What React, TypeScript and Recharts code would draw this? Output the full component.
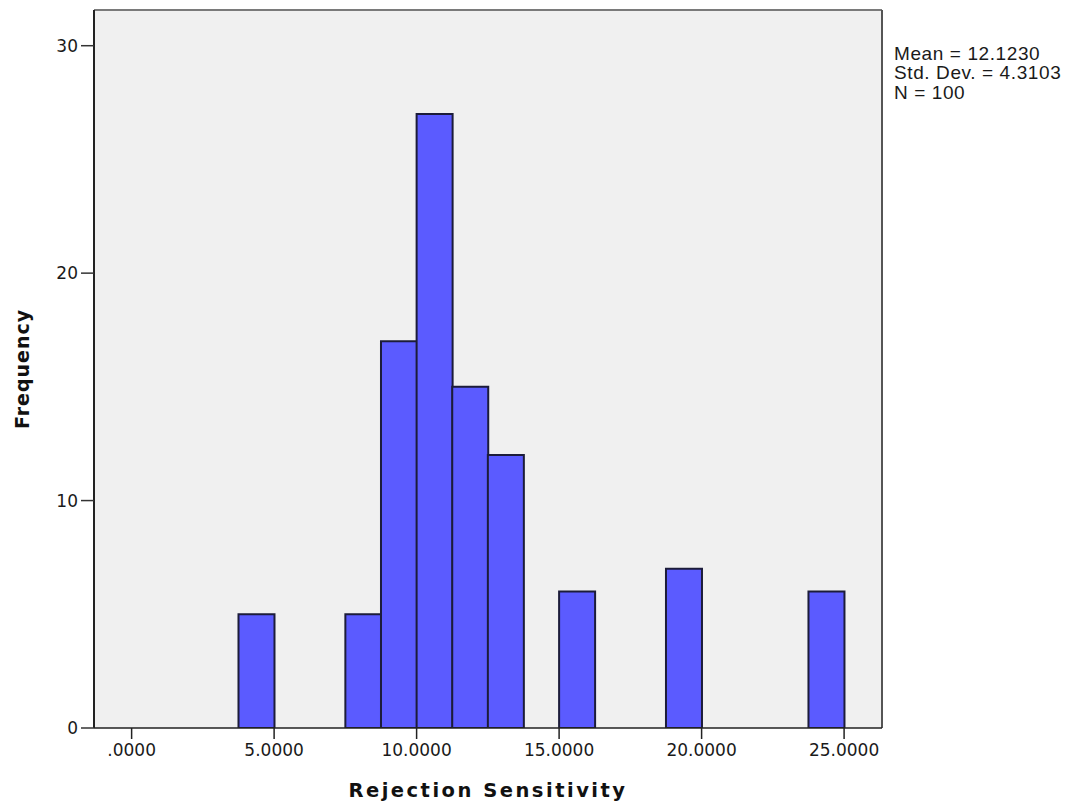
import { ComposedChart, Bar, XAxis, YAxis, CartesianGrid, ReferenceLine } from 'recharts';

// non-empty histogram bins: left edge of each bin and its count
const binStarts = [3.75, 7.5, 8.75, 10, 11.25, 12.5, 15, 18.75, 23.75];
const frequencies = [5, 5, 17, 27, 15, 12, 6, 7, 6];
const BIN_WIDTH = 1.25;

const xTicks = [0, 5, 10, 15, 20, 25];
const yTicks = [0, 10, 20, 30];
const statLines = ['Mean = 12.1230', 'Std. Dev. = 4.3103', 'N = 100'];

const X_DOMAIN = [-1.32, 26.33];
const Y_MAX = 31.57;

const data = binStarts.map((start, i) => ({
  mid: start + BIN_WIDTH / 2,
  count: frequencies[i],
}));

const TICK_FONT = { fontFamily: '"DejaVu Sans", sans-serif', fontSize: 17, fill: '#1a1a1a' };

// SPSS prints .0000 without the leading zero
const fmtX = (v: number) => v.toFixed(4).replace(/^0(?=\.)/, '');

const XTitle = ({ viewBox }: any) => (
  <text
    x={viewBox.x + viewBox.width / 2}
    y={viewBox.y + viewBox.height - 6}
    textAnchor="middle"
    fontFamily='"DejaVu Sans", sans-serif'
    fontWeight="bold"
    fontSize={19.5}
    letterSpacing={2.5}
    fill="#111"
  >
    Rejection Sensitivity
  </text>
);

const YTitle = ({ viewBox }: any) => {
  const cx = viewBox.x + 29;
  const cy = viewBox.y + viewBox.height / 2;
  return (
    <text
      x={cx}
      y={cy}
      transform={`rotate(-90, ${cx}, ${cy})`}
      textAnchor="middle"
      fontFamily='"DejaVu Sans", sans-serif'
      fontWeight="bold"
      fontSize={19}
      letterSpacing={1}
      fill="#111"
    >
      Frequency
    </text>
  );
};

export default function App() {
  return (
    <div style={{ position: 'absolute', left: 0, top: 0, width: 1070, height: 803, background: '#fff' }}>
      <ComposedChart
        width={1070}
        height={803}
        data={data}
        margin={{ top: 10, right: 188, left: 0, bottom: 0 }}
        barCategoryGap={0}
        barGap={0}
      >
        <CartesianGrid horizontal={false} vertical={false} fill="#f0f0f0" />
        <XAxis
          type="number"
          dataKey="mid"
          domain={X_DOMAIN}
          ticks={xTicks}
          tickFormatter={fmtX}
          allowDataOverflow
          height={75}
          tickSize={11}
          tickMargin={5}
          axisLine={{ stroke: '#222', strokeWidth: 1.5 }}
          tickLine={{ stroke: '#222', strokeWidth: 1.5 }}
          tick={TICK_FONT}
          label={<XTitle />}
        />
        <YAxis
          type="number"
          domain={[0, Y_MAX]}
          ticks={yTicks}
          allowDataOverflow
          width={94}
          tickSize={13}
          tickMargin={3}
          axisLine={{ stroke: '#222', strokeWidth: 2 }}
          tickLine={{ stroke: '#333', strokeWidth: 1.5 }}
          tick={TICK_FONT}
          label={<YTitle />}
        />
        {/* top and right edges of the plot frame */}
        <ReferenceLine y={Y_MAX} stroke="#7a7a7a" strokeWidth={2} />
        <ReferenceLine x={X_DOMAIN[1]} stroke="#555" strokeWidth={2} />
        <Bar
          dataKey="count"
          fill="#5b5bff"
          stroke="#1c1c3a"
          strokeWidth={2}
          isAnimationActive={false}
        />
      </ComposedChart>
      <div
        style={{
          position: 'absolute',
          left: 894,
          top: 44,
          fontFamily: '"Liberation Sans", Arial, sans-serif',
          fontSize: 19,
          lineHeight: '19.3px',
          letterSpacing: 0.6,
          color: '#1a1a1a',
          whiteSpace: 'nowrap',
        }}
      >
        {statLines.map((line) => (
          <div key={line}>{line}</div>
        ))}
      </div>
    </div>
  );
}
